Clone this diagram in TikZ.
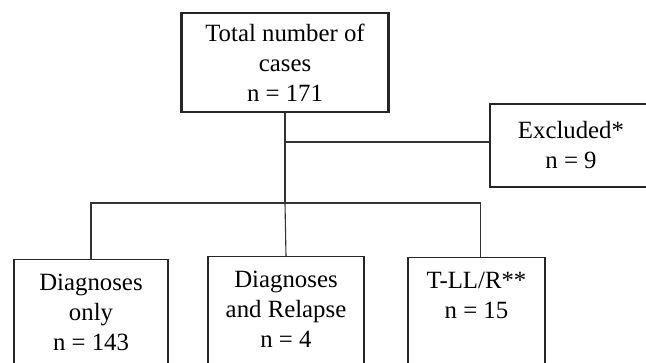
\documentclass[tikz,border=0pt]{standalone}
\usepackage{fontspec}
\setmainfont{Liberation Serif}
\usetikzlibrary{positioning,calc}

\begin{document}
\begin{tikzpicture}[%
    x=1pt, y=-1pt,
    every node/.style={font=\fontsize{24.8}{30}\selectfont, align=center},
    box/.style={draw=black!85, line width=1.4pt, inner sep=0pt},
    lowbox/.style={box, anchor=north, inner ysep=14pt, text depth=40pt},
    link/.style={draw=black!80, line width=1.1pt}
  ]
  \useasboundingbox (0,0) rectangle (646,363);
  \clip (0,0) rectangle (646,363);

  \node[box, line width=2.4pt, minimum width=207pt, minimum height=99pt] (total) at (285,62.5)
    {Total number of\\cases\\n = 171};
  \node[box, minimum width=162pt, minimum height=83pt] (excluded) at (571,145.5)
    {Excluded*\\n = 9};

  \node[lowbox, minimum width=154pt] (only) at (91,259) {Diagnoses\\only\\n = 143};
  \node[lowbox, minimum width=156pt] (relapse) at (286,256) {Diagnoses\\and Relapse\\n = 4};
  \node[lowbox, minimum width=137pt, text depth=70pt] (tll) at (476.5,257) {T-LL/R**\\n = 15};

  \coordinate (fork) at (total.south |- 0,203);

  \draw[link] (total.south) -- (fork);
  \draw[link] (total.south |- 0,142) -- (excluded.west |- 0,142);
  \draw[link] (only.north) -- (only.north |- fork) -- ([xshift=4pt]tll.north |- fork)
    -- ([xshift=4pt]tll.north);
  \draw[link] (fork) -- (relapse.north);

\end{tikzpicture}
\end{document}
